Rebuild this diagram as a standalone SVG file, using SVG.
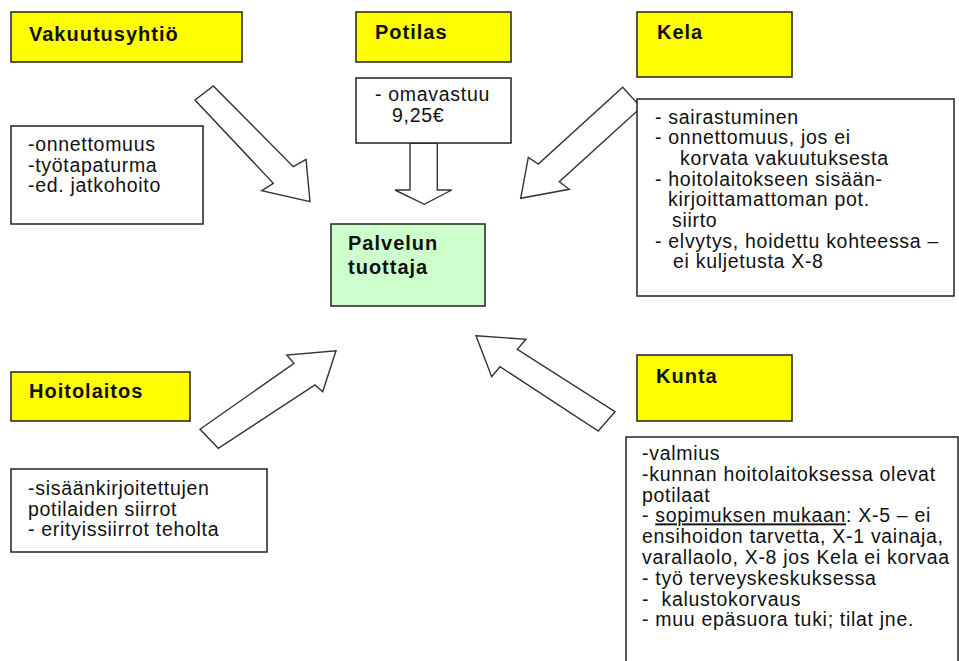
<svg xmlns="http://www.w3.org/2000/svg" width="959" height="661" viewBox="0 0 959 661">
<style>
.title{fill:#ffff00;stroke:#222;stroke-width:1.5}
.box{fill:#fff;stroke:#222;stroke-width:1.5}
.main{fill:#ccffcc;stroke:#222;stroke-width:1.5}
.arrow{fill:#fff;stroke:#333;stroke-width:1.4;stroke-linejoin:miter}
.h{font-family:"Liberation Sans",Arial,sans-serif;font-weight:bold;font-size:20px;letter-spacing:1px;fill:#111}
.t{font-family:"Liberation Sans",Arial,sans-serif;font-size:19.5px;letter-spacing:0.7px;fill:#111}
</style>
<rect width="959" height="661" fill="#fff"/>
<g id="connectors">
<polygon class="arrow" points="195,100 213.3,86 293.3,166.7 306,159.3 310,201.7 261.7,190.7 273.3,183.3"/>
<polygon class="arrow" points="410,143 437.3,143 437.3,190 451.7,190 424.3,204.3 395,190 410,190"/>
<polygon class="arrow" points="622.7,87.3 641,107.4 559.3,181.7 569.3,189.3 520.7,198.3 528.3,157.3 538.3,164"/>
<polygon class="arrow" points="200,429.3 294,363.3 286.7,355 336,350.7 322.7,391.7 315,385 218.3,448.3"/>
<polygon class="arrow" points="476,335.7 526,339.3 517.3,349.3 615,411.7 598.3,431 500,366.7 491.7,376.7"/>
</g>
<g id="vakuutusyhtio">
<rect class="title" x="11" y="12" width="231" height="50"/>
<text class="h" x="29" y="41">Vakuutusyhtiö</text>
<rect class="box" x="11" y="126" width="192" height="98"/>
<text class="t" x="28" y="151">-onnettomuus</text>
<text class="t" x="28" y="171.5">-työtapaturma</text>
<text class="t" x="28" y="192">-ed. jatkohoito</text>
</g>
<g id="potilas">
<rect class="title" x="356" y="12" width="155" height="50"/>
<text class="h" x="375" y="39">Potilas</text>
<rect class="box" x="356" y="78" width="155" height="65"/>
<text class="t" x="375" y="101">- omavastuu</text>
<text class="t" x="392" y="122">9,25€</text>
</g>
<g id="kela">
<rect class="title" x="637" y="12" width="155" height="65"/>
<text class="h" x="657" y="39">Kela</text>
<rect class="box" x="637" y="99" width="317" height="197"/>
<text class="t" x="655" y="123.5">- sairastuminen</text>
<text class="t" x="655" y="144">- onnettomuus, jos ei</text>
<text class="t" x="680" y="165">korvata vakuutuksesta</text>
<text class="t" x="655" y="185.5">- hoitolaitokseen sisään-</text>
<text class="t" x="668" y="206">kirjoittamattoman pot.</text>
<text class="t" x="672" y="226.5">siirto</text>
<text class="t" x="655" y="247.5">- elvytys, hoidettu kohteessa –</text>
<text class="t" x="673" y="268">ei kuljetusta X-8</text>
</g>
<g id="palvelun-tuottaja">
<rect class="main" x="331" y="224" width="154" height="82"/>
<text class="h" x="348" y="250">Palvelun</text>
<text class="h" x="348" y="274">tuottaja</text>
</g>
<g id="hoitolaitos">
<rect class="title" x="11" y="372" width="179" height="49"/>
<text class="h" x="29" y="398">Hoitolaitos</text>
<rect class="box" x="11" y="469" width="256" height="83"/>
<text class="t" x="28" y="495">-sisäänkirjoitettujen</text>
<text class="t" x="28" y="515.6">potilaiden siirrot</text>
<text class="t" x="28" y="536.2">- erityissiirrot teholta</text>
</g>
<g id="kunta">
<rect class="title" x="637" y="355" width="155" height="66"/>
<text class="h" x="656" y="383">Kunta</text>
<rect class="box" x="626" y="437" width="332" height="245"/>
<text class="t" x="642" y="460">-valmius</text>
<text class="t" x="642" y="480.8">-kunnan hoitolaitoksessa olevat</text>
<text class="t" x="642" y="501.6">potilaat</text>
<text class="t" x="642" y="522.4">- <tspan text-decoration="underline">sopimuksen mukaan</tspan>: X-5 – ei</text>
<text class="t" x="642" y="543.2">ensihoidon tarvetta, X-1 vainaja,</text>
<text class="t" x="642" y="564">varallaolo, X-8 jos Kela ei korvaa</text>
<text class="t" x="642" y="584.8">- työ terveyskeskuksessa</text>
<text class="t" x="642" y="605.6" xml:space="preserve">-  kalustokorvaus</text>
<text class="t" x="642" y="626.4">- muu epäsuora tuki; tilat jne.</text>
</g>
</svg>
